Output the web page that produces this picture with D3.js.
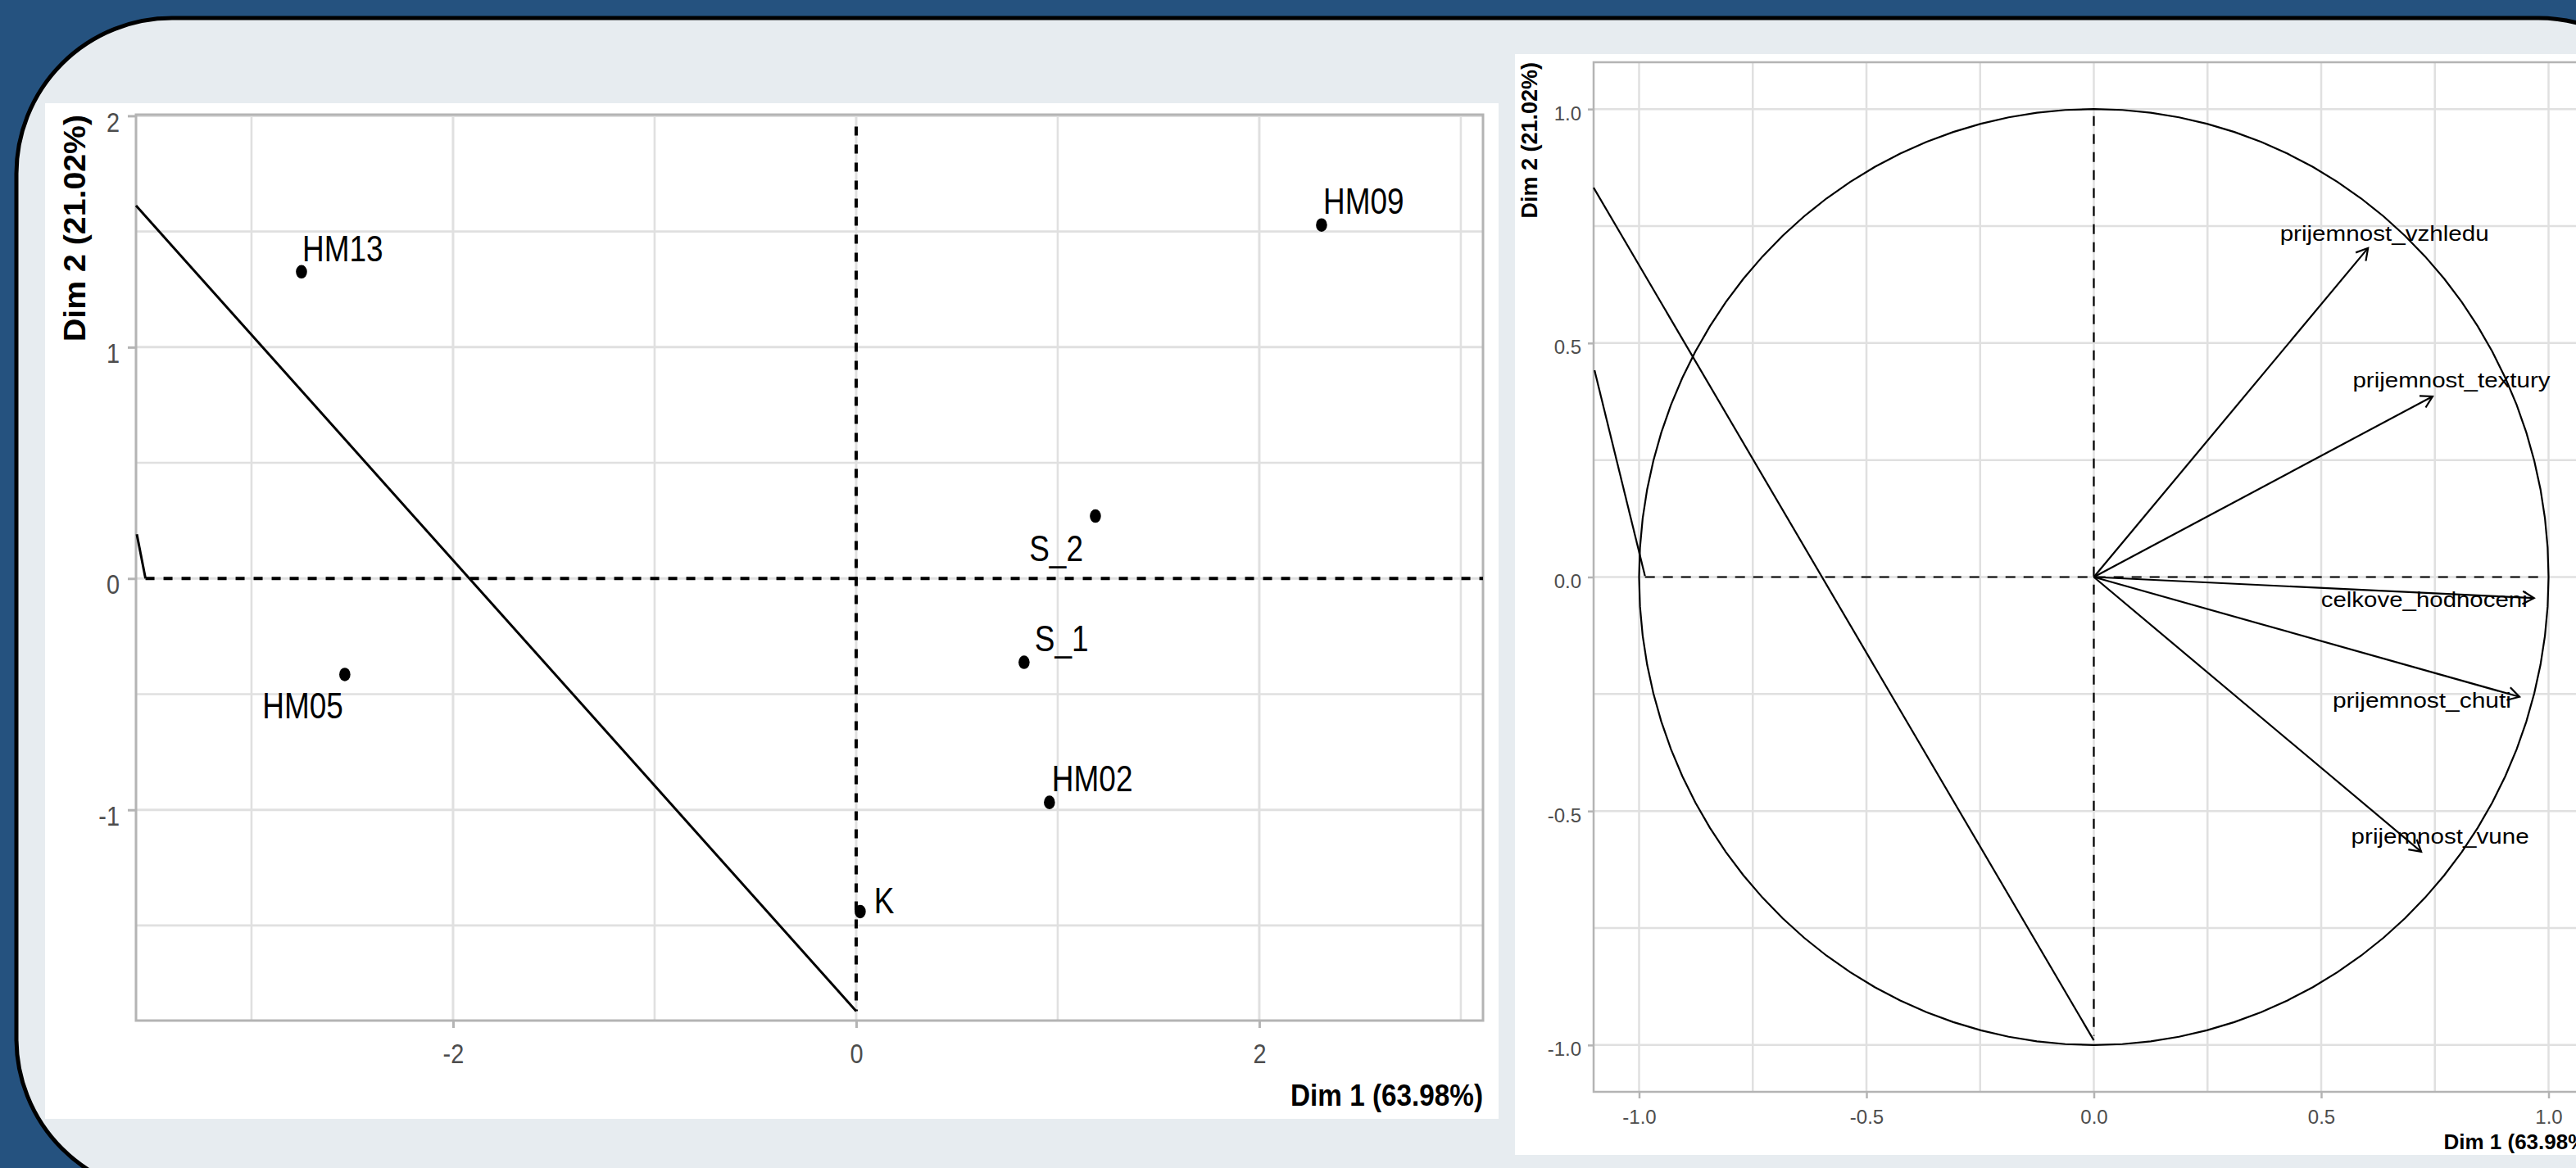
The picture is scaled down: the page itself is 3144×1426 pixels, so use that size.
<!DOCTYPE html>
<html>
<head>
<meta charset="utf-8">
<script src="https://cdn.jsdelivr.net/npm/d3@7"></script>
<style>
  html, body { margin: 0; padding: 0; background: #25527f; }
  svg { display: block; }
  text { font-family: "Liberation Sans", Arial, Helvetica, sans-serif; }
</style>
</head>
<body>
<svg id="chart" width="3144" height="1426"></svg>
<script>
// ---- PCA individuals (Dim 1 × Dim 2) ----
const indNames = ["HM13", "HM09", "S_2", "S_1", "HM02", "K", "HM05"];
const indDim1  = [-2.752, 2.309, 1.187, 0.833, 0.959, 0.020, -2.537];
const indDim2  = [ 1.326, 1.528, 0.270, -0.362, -0.968, -1.440, -0.415];

// ---- PCA variables (correlation circle) ----
const varNames = ["prijemnost_vzhledu", "prijemnost_textury", "celkove_hodnoceni",
                  "prijemnost_chuti", "prijemnost_vune"];
const varDim1  = [0.603, 0.745, 0.968, 0.936, 0.720];
const varDim2  = [0.703, 0.386, -0.045, -0.256, -0.587];

// ---- axis titles and ticks ----
const dim1Title = "Dim 1 (63.98%)";
const dim2Title = "Dim 2 (21.02%)";
const indXTicks = [-2, 0, 2];
const indXMinor = [-3, -1, 1, 3];
const indYTicks = [-1, 0, 1, 2];
const indYMinor = [-1.5, -0.5, 0.5, 1.5];
const varTicks  = [-1.0, -0.5, 0.0, 0.5, 1.0];
const varMinor  = [-0.75, -0.25, 0.25, 0.75];

// ---- extra reference segments drawn on each map ----
const indSegLong  = [[-3.573, 1.612], [0, -1.870]];
const indSegShort = [[-3.569, 0.191], [-3.526, 0]];
const indHGuide   = [[-3.526, 0], [3.11, 0]];
const indVGuide   = [[0, 1.954], [0, -1.870]];
const varSegLong  = [[-1.10, 0.832], [0, -0.990]];
const varSegShort = [[-1.098, 0.442], [-0.987, 0.002]];
const varHGuide   = [[-0.987, 0], [0.989, 0]];
const varVGuide   = [[0, 0.985], [0, -0.980]];

// label placement (pixel nudges from the mark, anchor)
const indLabelNudge = [[1, -13, "start"], [2, -14, "start"], [-15, 55, "end"], [13, -14, "start"],
                       [3, -14, "start"], [17, 2, "start"], [-2, 54, "end"]];
const varLabelNudge = [[20, -9], [23, -11], [-134, 11], [-119, 13], [23, -10]];
const varLabelWidth = [255, 241, 252, 218, 217];

const svg = d3.select("#chart");

// ---- page frame ----
svg.append("rect").attr("x", 0).attr("y", 0).attr("width", 3144).attr("height", 1426).attr("fill", "#25527f");
svg.append("rect").attr("x", 20).attr("y", 22).attr("width", 3268).attr("height", 1436)
  .attr("rx", 190).attr("ry", 190).attr("fill", "#e7ecf0").attr("stroke", "#000").attr("stroke-width", 5);

// panels
svg.append("rect").attr("x", 55).attr("y", 126).attr("width", 1774).attr("height", 1240).attr("fill", "#fff");
svg.append("rect").attr("x", 1849).attr("y", 66).attr("width", 1400).attr("height", 1344).attr("fill", "#fff");

const GRID = "#e0e0e0", BORDER = "#b4b4b4", TICKTXT = "#4d4d4d";

function grid(g, x, y, xs, ys, w) {
  g.selectAll(null).data(xs).join("line")
    .attr("x1", d => x(d)).attr("x2", d => x(d)).attr("y1", y.range()[0]).attr("y2", y.range()[1])
    .attr("stroke", GRID).attr("stroke-width", w);
  g.selectAll(null).data(ys).join("line")
    .attr("y1", d => y(d)).attr("y2", d => y(d)).attr("x1", x.range()[0]).attr("x2", x.range()[1])
    .attr("stroke", GRID).attr("stroke-width", w);
}
function seg(g, x, y, pts, w, dash) {
  const p = g.append("path")
    .attr("d", d3.line().x(d => x(d[0])).y(d => y(d[1]))(pts))
    .attr("fill", "none").attr("stroke", "#000").attr("stroke-width", w);
  if (dash) p.attr("stroke-dasharray", dash);
}

// ================= Individuals map =================
(function () {
  const x = d3.scaleLinear().domain([-3.573, 3.11]).range([166, 1810]);
  const y = d3.scaleLinear().domain([-1.911, 2.005]).range([1246, 140]);
  const g = svg.append("g");
  const SQ = 0.85;

  grid(g, x, y, indXMinor, indYMinor, 2.6);
  grid(g, x, y, indXTicks, indYTicks, 3);

  // axes
  const ax = g.append("g").attr("transform", "translate(0,1246)")
    .call(d3.axisBottom(x).tickValues(indXTicks).tickFormat(d => String(d)).tickSize(9).tickPadding(19));
  const ay = g.append("g").attr("transform", "translate(166,0)")
    .call(d3.axisLeft(y).tickValues(indYTicks).tickFormat(d => String(d)).tickSize(10).tickPadding(10));
  [ax, ay].forEach(a => {
    a.select(".domain").remove();
    a.selectAll(".tick line").attr("stroke", BORDER).attr("stroke-width", 3);
    a.selectAll(".tick text").attr("fill", TICKTXT).attr("font-size", 34)
      .attr("font-family", "'Liberation Sans', Arial, sans-serif")
      .attr("transform", `scale(${SQ},1)`);
  });
  ay.selectAll(".tick text").attr("x", -20 / SQ).attr("dy", "0.55em");

  g.append("rect").attr("x", 166).attr("y", 140).attr("width", 1644).attr("height", 1106)
    .attr("fill", "none").attr("stroke", BORDER).attr("stroke-width", 3);

  // reference lines
  seg(g, x, y, indHGuide, 4, "11,11");
  seg(g, x, y, indVGuide, 4, "11,11");
  seg(g, x, y, indSegLong, 3);
  seg(g, x, y, indSegShort, 3);

  // points
  const data = indNames.map((n, i) => ({ n, x: indDim1[i], y: indDim2[i], nd: indLabelNudge[i] }));
  g.selectAll(null).data(data).join("ellipse")
    .attr("cx", d => x(d.x)).attr("cy", d => y(d.y)).attr("rx", 6.8).attr("ry", 8.3).attr("fill", "#000");
  g.selectAll(null).data(data).join("text")
    .attr("transform", d => `translate(${x(d.x) + d.nd[0]},${y(d.y) + d.nd[1]}) scale(0.84,1)`)
    .attr("text-anchor", d => d.nd[2])
    .attr("font-size", 44).attr("fill", "#000").text(d => d.n);

  // titles
  g.append("text").attr("x", 1810).attr("y", 1350).attr("text-anchor", "end")
    .attr("font-size", 36).attr("font-weight", "bold").attr("textLength", 235)
    .attr("lengthAdjust", "spacingAndGlyphs").text(dim1Title);
  g.append("text").attr("transform", "translate(104,140) rotate(-90)").attr("text-anchor", "end")
    .attr("font-size", 37).attr("font-weight", "bold").attr("textLength", 277)
    .attr("lengthAdjust", "spacingAndGlyphs").text(dim2Title);
})();

// ================= Variables correlation circle =================
(function () {
  const x = d3.scaleLinear().domain([-1.1, 1.1]).range([1945, 3166]);
  const y = d3.scaleLinear().domain([-1.1, 1.1]).range([1333, 76]);
  const g = svg.append("g");

  grid(g, x, y, varMinor, varMinor, 2.5);
  grid(g, x, y, varTicks, varTicks, 2.5);

  const ax = g.append("g").attr("transform", "translate(0,1333)")
    .call(d3.axisBottom(x).tickValues(varTicks).tickFormat(d => d.toFixed(1)).tickSize(8).tickPadding(14));
  const ay = g.append("g").attr("transform", "translate(1945,0)")
    .call(d3.axisLeft(y).tickValues(varTicks).tickFormat(d => d.toFixed(1)).tickSize(7).tickPadding(8));
  [ax, ay].forEach(a => {
    a.select(".domain").remove();
    a.selectAll(".tick line").attr("stroke", BORDER).attr("stroke-width", 2.5);
    a.selectAll(".tick text").attr("fill", TICKTXT).attr("font-size", 24)
      .attr("font-family", "'Liberation Sans', Arial, sans-serif");
  });
  ay.selectAll(".tick text").attr("dy", "0.54em");

  g.append("rect").attr("x", 1945).attr("y", 76).attr("width", 1221).attr("height", 1257)
    .attr("fill", "none").attr("stroke", BORDER).attr("stroke-width", 2.5);

  // unit circle
  const ang = d3.range(0, 101).map(i => (2 * Math.PI * i) / 100);
  g.append("path")
    .attr("d", d3.line().x(a => x(Math.cos(a))).y(a => y(Math.sin(a)))(ang))
    .attr("fill", "none").attr("stroke", "#000").attr("stroke-width", 2.2);

  seg(g, x, y, varHGuide, 2.2, "12,10");
  seg(g, x, y, varVGuide, 2.2, "12,10");
  seg(g, x, y, varSegLong, 2.2);
  seg(g, x, y, varSegShort, 2.2);

  // arrows
  const data = varNames.map((n, i) => ({ n, x: varDim1[i], y: varDim2[i], nd: varLabelNudge[i], w: varLabelWidth[i] }));
  const ox = x(0), oy = y(0), L = 16, wing = Math.PI / 6;
  data.forEach(d => {
    const tx = x(d.x), ty = y(d.y);
    const a = Math.atan2(ty - oy, tx - ox);
    const p1 = [tx - L * Math.cos(a - wing), ty - L * Math.sin(a - wing)];
    const p2 = [tx - L * Math.cos(a + wing), ty - L * Math.sin(a + wing)];
    g.append("line").attr("x1", ox).attr("y1", oy).attr("x2", tx).attr("y2", ty)
      .attr("stroke", "#000").attr("stroke-width", 2.2);
    g.append("path").attr("d", `M${p1[0]},${p1[1]}L${tx},${ty}L${p2[0]},${p2[1]}`)
      .attr("fill", "none").attr("stroke", "#000").attr("stroke-width", 2.2);
  });
  g.selectAll(null).data(data).join("text")
    .attr("x", d => x(d.x) + d.nd[0]).attr("y", d => y(d.y) + d.nd[1])
    .attr("text-anchor", "middle").attr("font-size", 26).attr("fill", "#000")
    .attr("textLength", d => d.w).attr("lengthAdjust", "spacingAndGlyphs")
    .text(d => d.n);

  g.append("text").attr("x", 3166).attr("y", 1403).attr("text-anchor", "end")
    .attr("font-size", 26).attr("font-weight", "bold").text(dim1Title);
  g.append("text").attr("transform", "translate(1876,76) rotate(-90)").attr("text-anchor", "end")
    .attr("font-size", 27).attr("font-weight", "bold").text(dim2Title);
})();
</script>
</body>
</html>
